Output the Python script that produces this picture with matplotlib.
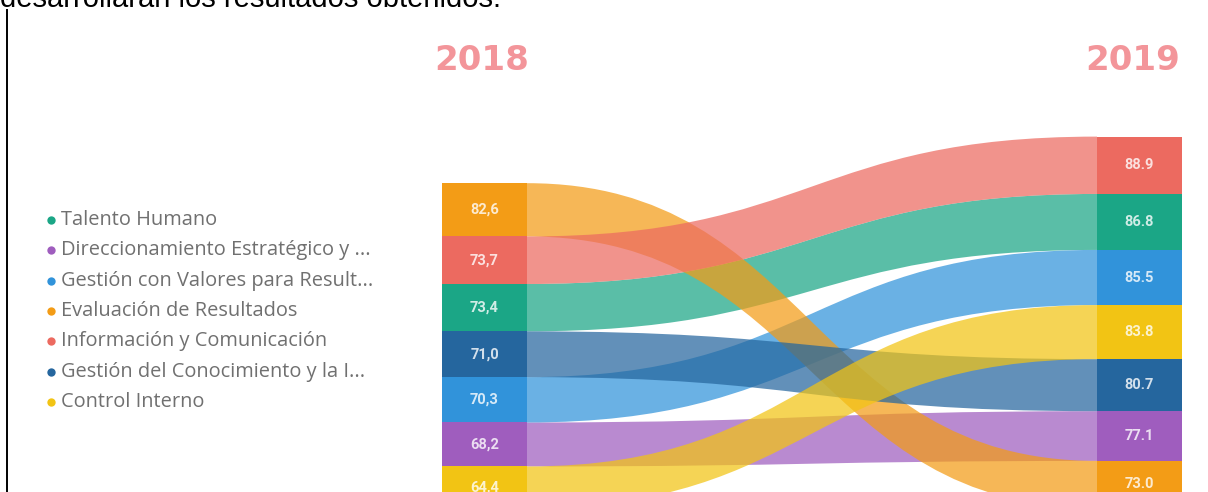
import matplotlib
matplotlib.use("Agg")
import matplotlib.pyplot as plt
from matplotlib.path import Path
from matplotlib.patches import PathPatch, Rectangle
from matplotlib.lines import Line2D

# ---- data -------------------------------------------------------------
categories = [
    "Talento Humano",
    "Direccionamiento Estratégico y ...",
    "Gestión con Valores para Result...",
    "Evaluación de Resultados",
    "Información y Comunicación",
    "Gestión del Conocimiento y la I...",
    "Control Interno",
]
colors = ["#1BA686", "#9F5DBE", "#3193DA", "#F39C16", "#EC6A60", "#25669E", "#F2C414"]
values_2018 = [73.4, 68.2, 70.3, 82.6, 73.7, 71.0, 64.4]
values_2019 = [86.8, 77.1, 85.5, 73.0, 88.9, 80.7, 83.8]
years = ["2018", "2019"]

# ---- layout (pixels) --------------------------------------------------
W, H = 1208, 492
px_per_unit = 0.645          # vertical scale of the stacked columns
base_px = 508                # baseline of both columns (from top)
left_px, col_gap_px, bar_px = 442, 655, 85

fig = plt.figure(figsize=(W / 100, H / 100), dpi=100)
fig.patch.set_facecolor("white")

ax = fig.add_axes([0, (H - base_px) / H, 1, base_px / H])
ax.set_xlim(-left_px / col_gap_px, (W - left_px) / col_gap_px)
ax.set_ylim(0, base_px / px_per_unit)
ax.axis("off")

bar_w = bar_px / col_gap_px


def stack(values):
    """Stack values with the largest at the top, all columns sharing a zero baseline."""
    order = sorted(range(len(values)), key=lambda i: -values[i])
    top = sum(values)
    spans = {}
    for i in order:
        spans[i] = (top - values[i], top)
        top -= values[i]
    return spans


spans_l = stack(values_2018)
spans_r = stack(values_2019)

# ribbons between the two columns
x0, x1 = bar_w, 1.0
xm = (x0 + x1) / 2
for k in range(len(categories)):
    l0, l1 = spans_l[k]
    r0, r1 = spans_r[k]
    verts = [
        (x0, l1), (xm, l1), (xm, r1), (x1, r1),
        (x1, r0),
        (xm, r0), (xm, l0), (x0, l0),
        (x0, l1),
    ]
    codes = [Path.MOVETO, Path.CURVE4, Path.CURVE4, Path.CURVE4,
             Path.LINETO,
             Path.CURVE4, Path.CURVE4, Path.CURVE4,
             Path.CLOSEPOLY]
    ax.add_patch(PathPatch(Path(verts, codes), facecolor=colors[k],
                           edgecolor="none", alpha=0.72, zorder=2))

# columns with value labels
title_shift = [-3, -7]
for col, (spans, vals, dec) in enumerate([(spans_l, values_2018, ","),
                                          (spans_r, values_2019, ".")]):
    for k in range(len(categories)):
        y0, y1 = spans[k]
        ax.add_patch(Rectangle((col, y0), bar_w, y1 - y0, facecolor=colors[k],
                               edgecolor="none", zorder=3))
        ax.text(col + bar_w / 2, (y0 + y1) / 2, f"{vals[k]:.1f}".replace(".", dec),
                ha="center", va="center", color="white", alpha=0.8,
                fontsize=10.5, fontweight="bold", family="Roboto", zorder=4)
    ax.text(col + bar_w / 2 + title_shift[col] / col_gap_px,
            (base_px - 60) / px_per_unit, years[col],
            ha="center", va="center", color="#F3959A", fontsize=24.5,
            fontweight="bold", family="DejaVu Sans", zorder=4)

# legend and page elements on a pixel overlay
ov = fig.add_axes([0, 0, 1, 1])
ov.set_xlim(0, W)
ov.set_ylim(H, 0)
ov.axis("off")
ov.patch.set_alpha(0)

for i, (name, c) in enumerate(zip(categories, colors)):
    y = 220 + 30.3 * i
    ov.plot(51, y, "o", color=c, markersize=6, markeredgewidth=0)
    ov.text(61, y, name, ha="left", va="center", color="#707070",
            fontsize=14.4, family="Open Sans")

ov.text(0, 7, "desarrollarán los resultados obtenidos.", ha="left",
        va="baseline", color="black", fontsize=21, family="Liberation Sans")
ov.add_line(Line2D([7, 7], [10, H], color="black", linewidth=1.4))

fig.savefig("out.png", dpi=100, facecolor="white")
